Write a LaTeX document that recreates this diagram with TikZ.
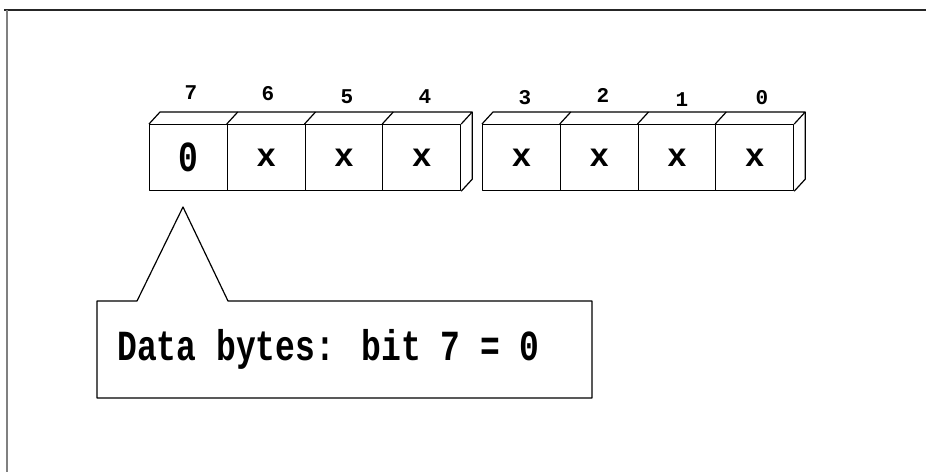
\documentclass[tikz,border=0pt]{standalone}
\usepackage{fontspec}
\usepackage{graphicx}
\newfontfamily\pixmono[Numbers=SlashedZero]{Liberation Mono}
\begin{document}
\begin{tikzpicture}[x=1pt,y=-1pt,line join=round,
  cell/.style={draw,line width=1.2pt,minimum width=77.75pt,minimum height=66pt,inner sep=0pt,anchor=north west,
    font=\pixmono\bfseries\fontsize{33}{33}\selectfont},
  bitlabel/.style={inner sep=0pt,font=\pixmono\bfseries\fontsize{21}{21}\selectfont},
  edge3d/.style={line width=1.2pt},
  callout/.style={line width=1.2pt}]
\useasboundingbox (0,0) rectangle (926,472);
% frame
\draw[line width=2pt,black!85] (4,10) -- (926,10);
\draw[line width=1.5pt,black!50] (7,10) -- (7,472);
% byte group 1
\node[cell] (b7) at (149,124) {\scalebox{1}[1.3]{0}};
\node[cell] (b6) at (226.75,124) {\raisebox{-2pt}{x}};
\node[cell] (b5) at (304.5,124) {\raisebox{-2pt}{x}};
\node[cell] (b4) at (382.25,124) {\raisebox{-2pt}{x}};
\draw[edge3d] (b7.north west) -- ++(11,-12) -- ([xshift=11pt,yshift=12pt]b4.north east) -- (b4.north east);
\draw[edge3d] ([xshift=11pt,yshift=12pt]b4.north east) -- ([xshift=11pt,yshift=12pt]b4.south east) -- (b4.south east);
\foreach \n in {b6,b5,b4}{\draw[edge3d] (\n.north west) -- ++(11,-12);}
% byte group 2
\node[cell] (b3) at (482,124) {\raisebox{-2pt}{x}};
\node[cell] (b2) at (559.75,124) {\raisebox{-2pt}{x}};
\node[cell] (b1) at (637.5,124) {\raisebox{-2pt}{x}};
\node[cell] (b0) at (715.25,124) {\raisebox{-2pt}{x}};
\draw[edge3d] (b3.north west) -- ++(11,-12) -- ([xshift=11pt,yshift=12pt]b0.north east) -- (b0.north east);
\draw[edge3d] ([xshift=11pt,yshift=12pt]b0.north east) -- ([xshift=11pt,yshift=12pt]b0.south east) -- (b0.south east);
\foreach \n in {b2,b1,b0}{\draw[edge3d] (\n.north west) -- ++(11,-12);}
% bit numbers
\node[bitlabel] (l7) at (191,93) {7};
\node[bitlabel] (l6) at (268,94) {6};
\node[bitlabel] (l5) at (347,97) {5};
\node[bitlabel] (l4) at (425,97) {4};
\node[bitlabel] (l3) at (525,98) {3};
\node[bitlabel] (l2) at (603,95) {2};
\node[bitlabel] (l1) at (682,100) {1};
\node[bitlabel] (l0) at (762,98) {0};
% callout
\coordinate (tip) at (183,207);
\draw[callout] (97,301) -- (137,301) -- (tip) -- (228,301) -- (592,301) -- (592,398) -- (97,398) -- cycle;
\node[anchor=base west,inner sep=0pt,font=\pixmono\bfseries\fontsize{33}{33}\selectfont] (msg) at (117,360)
  {\scalebox{1}[1.3]{Data bytes: bit 7 = 0}};
\end{tikzpicture}
\end{document}
